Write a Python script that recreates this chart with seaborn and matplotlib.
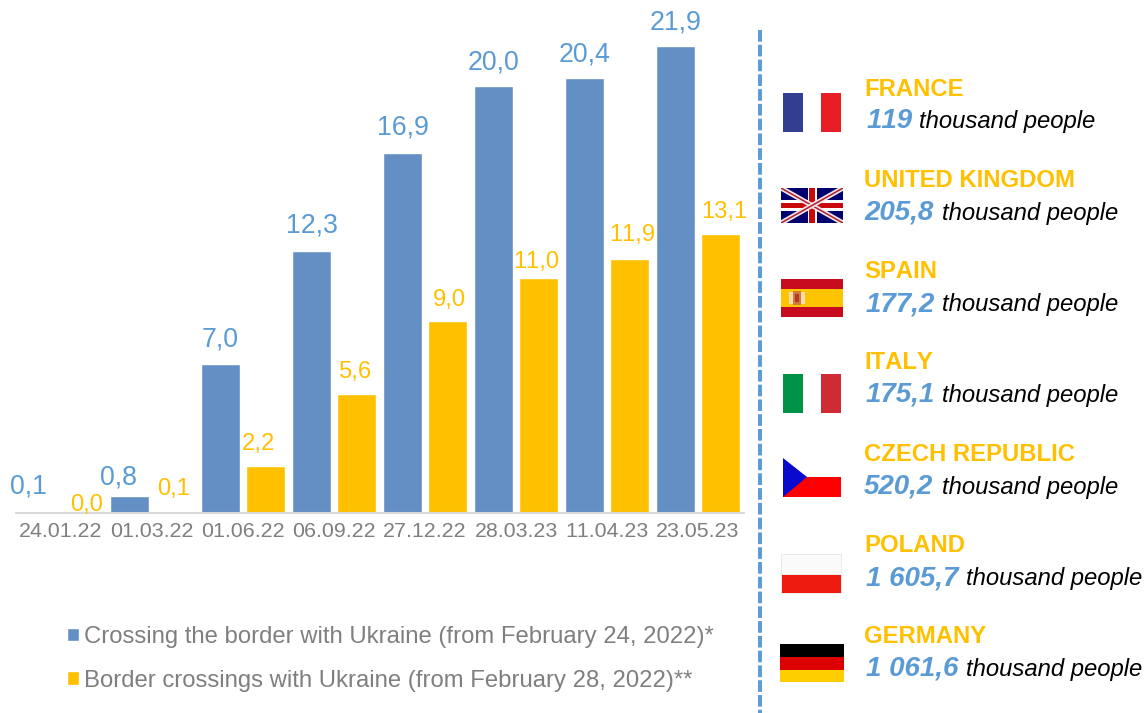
import matplotlib
matplotlib.use("Agg")
import matplotlib.pyplot as plt
from matplotlib.patches import Rectangle, Polygon
import pandas as pd
import seaborn as sns

dates = ["24.01.22", "01.03.22", "01.06.22", "06.09.22", "27.12.22", "28.03.23", "11.04.23", "23.05.23"]
series_a = [0.1, 0.8, 7.0, 12.3, 16.9, 20.0, 20.4, 21.9]
series_b = [0.0, 0.1, 2.2, 5.6, 9.0, 11.0, 11.9, 13.1]
name_a = "Crossing the border with Ukraine (from February 24, 2022)*"
name_b = "Border crossings with Ukraine (from February 28, 2022)**"
countries = ["FRANCE", "UNITED KINGDOM", "SPAIN", "ITALY", "CZECH REPUBLIC", "POLAND", "GERMANY"]
amounts = ["119", "205,8", "177,2", "175,1", "520,2", "1 605,7", "1 061,6"]

BLUE, YELLOW, LBLUE, GREY = "#648FC4", "#FFC000", "#5B9BD5", "#7F7F7F"
W, H = 1146, 713
sns.set_theme(style="white")
plt.rcParams["font.family"] = ["Liberation Sans", "DejaVu Sans"]
plt.rcParams["text.kerning_factor"] = 6

fig = plt.figure(figsize=(W / 100, H / 100), dpi=100)
ax = fig.add_axes([15.5 / W, 1 - 513 / H, 728 / W, 493 / H])
df = pd.DataFrame({"date": dates * 2, "value": series_a + series_b,
                   "series": [name_a] * 8 + [name_b] * 8})
sns.barplot(data=df, x="date", y="value", hue="series", order=dates,
            palette={name_a: BLUE, name_b: YELLOW}, width=0.99, gap=0.15,
            errorbar=None, ax=ax, saturation=1)
ax.set_xlim(-0.5, 7.5)
ax.set_ylim(0, 493 / 21.33)
ax.set_xlabel("")
ax.set_ylabel("")
ax.set_yticks([])
for s in ["top", "left", "right"]:
    ax.spines[s].set_visible(False)
ax.spines["bottom"].set_color("#D9D9D9")
ax.spines["bottom"].set_linewidth(1.5)
ax.tick_params(axis="x", length=0, pad=6.5, labelsize=15.4, labelcolor=GREY)

shift_a = [-10, -11, 0, 0, 0, 0, 0, 0]
up_a = [11, 5, 11, 12, 12, 11, 10, 10]
shift_b = [3, -1, -7, -1, 2, -2, 3, 4]
up_b = [-3, 11, 11, 11, 10, 5, 13, 11]
for bars, vals, col, fs, shift, ups in [
    (ax.containers[0], series_a, LBLUE, 19.3, shift_a, up_a),
    (ax.containers[1], series_b, YELLOW, 17.1, shift_b, up_b),
]:
    for b, v, dx, up in zip(bars, vals, shift, ups):
        ax.annotate(f"{v:.1f}".replace(".", ","), (b.get_x() + b.get_width() / 2, v),
                    xytext=(dx * 0.72, up * 0.72), textcoords="offset points",
                    ha="center", va="bottom", color=col, fontsize=fs, clip_on=False)

leg = ax.legend(handles=[ax.containers[0][0], ax.containers[1][0]], labels=[name_a, name_b],
                loc="upper left", bbox_to_anchor=(67 / W, 1 - 626 / H), bbox_transform=fig.transFigure,
                frameon=False, fontsize=17.2, labelcolor=GREY, borderpad=0, borderaxespad=0,
                handlelength=0.51, handleheight=0.51, handletextpad=0.2, labelspacing=0.91)

ov = fig.add_axes([0, 0, 1, 1], zorder=5)
ov.set_xlim(0, W)
ov.set_ylim(H, 0)
ov.axis("off")
ov.patch.set_alpha(0)
ov.plot([760.3, 760.3], [30, 713], color=LBLUE, lw=2.8, ls=(0, (3.0, 0.8)))


def rect(x0, y0, x1, y1, c, **kw):
    ov.add_patch(Rectangle((x0, y0), x1 - x0, y1 - y0, facecolor=c, edgecolor="none", **kw))


# France
rect(783, 93, 802.5, 132, "#323E8F"); rect(821, 93, 841, 132, "#E81E26")
# UK
x0, x1, y0, y1 = 781, 843, 188, 223
rect(x0, y0, x1, y1, "#00006E")
clip = Rectangle((x0, y0), x1 - x0, y1 - y0, transform=ov.transData)
for (a, b) in [((x0, y0), (x1, y1)), ((x0, y1), (x1, y0))]:
    l1, = ov.plot([a[0], b[0]], [a[1], b[1]], color="#F0E4E6", lw=3.6, solid_capstyle="butt"); l1.set_clip_path(clip)
    l2, = ov.plot([a[0], b[0]], [a[1], b[1]], color="#B02030", lw=1.1, solid_capstyle="butt"); l2.set_clip_path(clip)
rect(x0, 199.5, x1, 211, "white"); rect(807.5, y0, 817, y1, "white")
rect(x0, 203, x1, 208, "#C80A0A"); rect(809, y0, 815, y1, "#C80A0A")
# Spain
rect(781, 279, 843, 317, "#C60B1E"); rect(781, 289, 843, 307, "#FFC400")
rect(789, 292, 805, 304, "#F3DDB0")
rect(793, 291, 801, 305, "#D07A3A")
rect(795, 294, 799, 302, "#B5392A")
# Italy
rect(783, 374, 802.5, 413, "#009246"); rect(821, 374, 841, 413, "#CE2B37")
# Czech
rect(783, 477, 841, 497, "#FF0000")
ov.add_patch(Polygon([(783, 458), (807, 477), (783, 497)], facecolor="#0A0ACD", edgecolor="none"))
# Poland
rect(781, 554, 842, 594, "#EAEAEA"); rect(782, 555, 841, 574, "#FAFAFA"); rect(782, 575, 841, 593, "#EE1C10")
# Germany
rect(780, 644, 844, 657, "#000000"); rect(780, 657, 844, 670, "#DD0000"); rect(780, 670, 844, 682, "#FFCE00")

name_y = [96, 187, 278, 369, 461, 552, 643]
val_y = [128, 220, 311, 402, 494, 585, 676]
val_x = [867, 864, 866, 866, 864, 866, 866]
rest_x = [919, 942, 942, 942, 942, 966, 966]
for c, a, ny, vy, vx, rx in zip(countries, amounts, name_y, val_y, val_x, rest_x):
    ov.text(864, ny, c, color=YELLOW, fontsize=17.2, fontweight="bold", va="baseline", ha="left")
    ov.text(vx, vy, a, color=LBLUE, fontsize=20, fontweight="bold", fontstyle="italic", va="baseline", ha="left")
    ov.text(rx, vy, "thousand people", color="black", fontsize=17.2, fontstyle="italic", va="baseline", ha="left")

fig.savefig("out.png", dpi=100)
